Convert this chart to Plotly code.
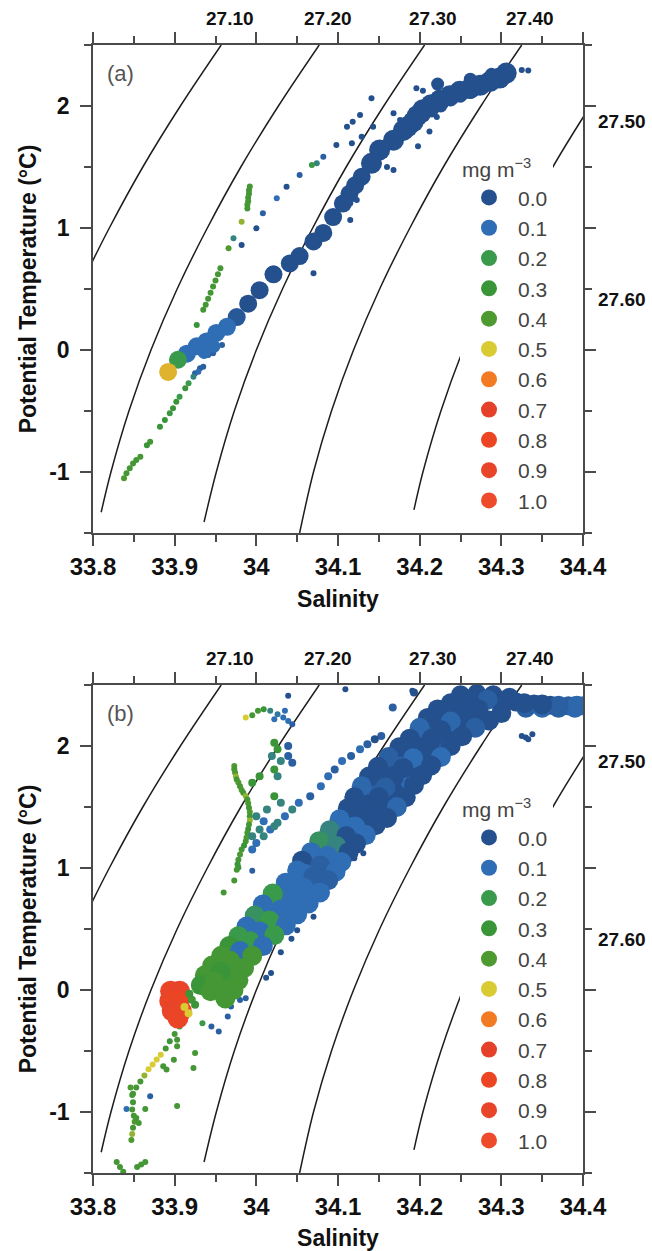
import plotly.graph_objects as go

# ---------------- legend classes (chlorophyll, mg m-3) ----------------
CHL_LEVELS = [0.0, 0.1, 0.2, 0.3, 0.4, 0.5, 0.6, 0.7, 0.8, 0.9, 1.0]
CHL_LABELS = ["0.0", "0.1", "0.2", "0.3", "0.4", "0.5", "0.6", "0.7", "0.8", "0.9", "1.0"]
CHL_COLORS = ["#24508e", "#2f6db4", "#3a9a4c", "#3a9438", "#4d9a30", "#d8cb34",
              "#f27a22", "#e4402a", "#ec4524", "#e8442a", "#ee4a2c"]

# ---------------- axes ----------------
X_TICKS = [33.8, 33.9, 34.0, 34.1, 34.2, 34.3, 34.4]
X_TICK_TEXT = ["33.8", "33.9", "34", "34.1", "34.2", "34.3", "34.4"]
Y_TICKS = [-1, 0, 1, 2]
Y_TICK_TEXT = ["-1", "0", "1", "2"]

# ---------------- isopycnals (sigma-theta) ----------------
DENS_TOP_LABELS = ["27.10", "27.20", "27.30", "27.40"]
DENS_TOP_SAL = [33.968, 34.088, 34.216, 34.335]
DENS_RIGHT_LABELS = ["27.50", "27.60"]
DENS_RIGHT_TEMP = [1.87, 0.41]

ISO_SAL = [
    [33.957, 33.907, 33.861, 33.820, 33.790],
    [34.077, 34.027, 33.981, 33.940, 33.903, 33.871, 33.844, 33.822, 33.810],
    [34.206, 34.156, 34.110, 34.069, 34.032, 34.000, 33.973, 33.951, 33.936],
    [34.325, 34.275, 34.229, 34.188, 34.151, 34.119, 34.092, 34.070, 34.053],
    [34.459, 34.409, 34.363, 34.322, 34.285, 34.253, 34.226, 34.204, 34.193],
]
ISO_TEMP = [
    [2.5, 2.0, 1.5, 1.0, 0.6],
    [2.5, 2.0, 1.5, 1.0, 0.5, 0.0, -0.5, -1.0, -1.33],
    [2.5, 2.0, 1.5, 1.0, 0.5, 0.0, -0.5, -1.0, -1.41],
    [2.5, 2.0, 1.5, 1.0, 0.5, 0.0, -0.5, -1.0, -1.50],
    [2.5, 2.0, 1.5, 1.0, 0.5, 0.0, -0.5, -1.0, -1.31],
]

# ---------------- panel (a) observations ----------------
A_SMALL_SAL = [
    34.325, 34.333, 34.196, 34.204, 34.229, 34.225, 34.221, 34.212, 34.198, 34.176,
    34.168, 34.168, 34.160, 34.141, 34.127, 34.118, 34.111, 34.143, 34.129, 34.117,
    34.098, 34.082, 34.074, 34.068, 34.053, 34.037, 34.025, 34.008, 34.000, 33.982,
    33.972, 33.982, 33.966, 34.115, 34.115, 34.123, 34.070, 33.947, 33.941, 33.958,
    33.931, 33.925,
    33.992, 33.991, 33.991, 33.990, 33.990, 33.989, 33.989,
    33.956, 33.953, 33.950, 33.947, 33.944, 33.941, 33.938, 33.935, 33.927,
    33.935, 33.929, 33.923, 33.917, 33.913, 33.906, 33.902, 33.898, 33.894, 33.888,
    33.882, 33.870, 33.866, 33.858, 33.853, 33.849, 33.845, 33.841, 33.838]
A_SMALL_TEMP = [
    2.295, 2.29, 2.145, 2.125, 2.05, 1.98, 1.91, 1.79, 1.67, 1.885,
    1.94, 1.475, 1.50, 2.063, 1.926, 1.871, 1.83, 1.83, 1.748, 1.694,
    1.68, 1.585, 1.53, 1.516, 1.434, 1.339, 1.244, 1.12, 0.997, 1.052,
    0.916, 0.861, 0.834, 1.202, 1.066, 1.23, 0.629, -0.027, -0.041, 0.041,
    -0.15, -0.191,
    1.34, 1.31, 1.28, 1.25, 1.22, 1.19, 1.16,
    0.67, 0.62, 0.57, 0.52, 0.47, 0.42, 0.37, 0.33, 0.205,
    -0.137, -0.178, -0.219, -0.273, -0.314, -0.383, -0.424, -0.478, -0.519, -0.574,
    -0.629, -0.752, -0.78, -0.875, -0.902, -0.93, -0.97, -1.011, -1.052]
A_SMALL_CHL = [
    0, 0, 0, 0, 0, 0, 0, 0, 0, 0,
    0, 0, 0, 0, 0, 0, 0, 0, 0, 0,
    0, 0.05, 0.15, 0.25, 0.05, 0, 0.1, 0.05, 0, 0.45,
    0.15, 0, 0.4, 0, 0, 0, 0, 0.05, 0.05, 0.05,
    0.05, 0.05,
    0.35, 0.35, 0.35, 0.35, 0.35, 0.35, 0.35,
    0.35, 0.35, 0.35, 0.35, 0.35, 0.35, 0.35, 0.35, 0.3,
    0.05, 0.1, 0.15, 0.2, 0.3, 0.2, 0.3, 0.3, 0.25, 0.3,
    0.3, 0.35, 0.3, 0.35, 0.35, 0.35, 0.35, 0.35, 0.4]

A_MID_SAL = [34.222, 34.262, 34.288, 33.948, 33.936, 34.300, 34.288, 34.276, 34.262,
             34.250, 34.238, 34.226, 34.215, 34.205]
A_MID_TEMP = [2.18, 2.22, 2.26, 0.03, -0.02, 2.20, 2.18, 2.15, 2.11,
              2.08, 2.05, 2.00, 1.96, 1.92]
A_MID_CHL = [0.0, 0.0, 0.0, 0.1, 0.1, 0.0, 0.0, 0.0, 0.0,
             0.0, 0.0, 0.0, 0.0, 0.0]

A_TOP_SAL = [34.306, 34.298, 34.286, 34.274, 34.262, 34.249, 34.237, 34.225, 34.214, 34.204,
             34.197, 34.192, 34.185, 34.180, 34.168, 34.151, 34.141]
A_TOP_TEMP = [2.27, 2.23, 2.20, 2.17, 2.145, 2.12, 2.085, 2.05, 2.01, 1.97,
              1.92, 1.87, 1.83, 1.80, 1.72, 1.64, 1.53]
A_TOP_CHL = [0, 0, 0, 0, 0, 0, 0, 0, 0, 0,
             0, 0, 0, 0, 0, 0, 0]

A_TRACK_SAL = [
    34.129, 34.121, 34.114, 34.106, 34.094, 34.082, 34.070, 34.053, 34.041, 34.021,
    34.004, 33.990, 33.976, 33.964, 33.951, 33.939, 33.927, 33.915, 33.904, 33.892]
A_TRACK_TEMP = [
    1.42, 1.35, 1.28, 1.20, 1.09, 0.96, 0.89, 0.77, 0.71, 0.62,
    0.49, 0.38, 0.27, 0.19, 0.14, 0.07, 0.03, -0.03, -0.08, -0.18]
A_TRACK_CHL = [
    0, 0, 0, 0, 0, 0, 0, 0, 0, 0,
    0, 0, 0.03, 0.1, 0.1, 0.1, 0.1, 0.1, 0.2, 0.53]

# ---------------- panel (b) observations ----------------
B_SMALL_SAL = [
    34.109, 34.191, 34.039, 34.325, 34.333, 34.338, 34.330,
    34.127, 34.131, 34.120, 34.101, 34.070, 34.050, 34.043, 34.030, 34.018, 34.012,
    33.969, 33.980, 33.987, 33.965, 33.954, 33.945, 33.934, 33.925, 33.923, 33.903,
    33.903, 33.899, 33.886, 33.890, 33.903, 33.870, 33.864, 33.841,
    33.960, 33.973, 33.978, 33.995,
    33.987, 33.995, 34.002, 34.009, 34.017, 34.026, 34.033, 34.039, 34.022, 34.035, 34.044,
    33.973, 33.973, 33.974, 33.975, 33.976, 33.978, 33.980, 33.982, 33.984, 33.987,
    33.989, 33.990, 33.991, 33.992, 33.992, 33.992, 33.991, 33.990, 33.989, 33.988,
    33.987, 33.985, 33.982, 33.980, 33.978, 33.977, 33.976,
    33.906, 33.900, 33.894, 33.889, 33.883, 33.878, 33.873, 33.868, 33.863, 33.858,
    33.853, 33.849,
    33.846, 33.848, 33.849, 33.848, 33.850, 33.851, 33.849, 33.848, 33.847, 33.856, 33.853,
    33.829, 33.833, 33.837, 33.854, 33.859, 33.864]
B_SMALL_TEMP = [
    2.466, 2.452, 2.411, 2.082, 2.055, 2.096, 2.07,
    1.18, 1.12, 1.08, 1.03, 0.60, 0.49, 0.42, 0.31, 0.14, 0.10,
    -0.136, -0.082, -0.068, -0.217, -0.34, -0.299, -0.272, -0.516, -0.639, -0.408,
    -0.462, -0.571, -0.625, -0.652, -0.951, -0.87, -0.975, -0.975,
    0.80, 0.897, 1.005, 0.978,
    2.233, 2.252, 2.288, 2.301, 2.288, 2.26, 2.233, 2.205, 2.219, 2.288, 2.178,
    1.836, 1.81, 1.781, 1.75, 1.726, 1.70, 1.671, 1.64, 1.616, 1.59,
    1.562, 1.53, 1.493, 1.46, 1.425, 1.39, 1.356, 1.32, 1.288, 1.25,
    1.219, 1.185, 1.151, 1.11, 1.068, 1.03, 0.986,
    -0.30, -0.36, -0.42, -0.48, -0.53, -0.57, -0.61, -0.65, -0.70, -0.75,
    -0.80, -0.85,
    -0.80, -0.86, -0.92, -0.98, -1.03, -1.08, -1.13, -1.18, -1.23, -1.09, -1.05,
    -1.41, -1.45, -1.49, -1.45, -1.43, -1.41]
B_SMALL_CHL = [
    0, 0, 0, 0, 0, 0, 0,
    0, 0, 0, 0, 0, 0, 0, 0, 0, 0,
    0.05, 0.05, 0.05, 0.05, 0.05, 0.05, 0.2, 0.35, 0.35, 0.35,
    0.35, 0.35, 0.35, 0.35, 0.35, 0.05, 0.35, 0.1,
    0.35, 0.35, 0.3, 0.05,
    0.5, 0.35, 0.35, 0.3, 0.15, 0.12, 0.1, 0.1, 0.1, 0.1, 0.05,
    0.4, 0.35, 0.4, 0.45, 0.35, 0.4, 0.35, 0.4, 0.35, 0.45,
    0.35, 0.4, 0.35, 0.4, 0.35, 0.45, 0.35, 0.3, 0.35, 0.4,
    0.35, 0.3, 0.35, 0.4, 0.35, 0.3, 0.35,
    0.35, 0.35, 0.3, 0.35, 0.5, 0.5, 0.5, 0.5, 0.45, 0.35,
    0.35, 0.35,
    0.4, 0.35, 0.35, 0.35, 0.35, 0.4, 0.35, 0.45, 0.4, 0.35, 0.35,
    0.35, 0.35, 0.35, 0.35, 0.35, 0.35]

B_MID_SAL = [
    34.193, 34.167, 34.153, 34.145, 34.136, 34.127, 34.116, 34.105, 34.096, 34.088,
    34.079, 34.066, 34.052, 34.044, 34.035, 34.026, 34.017, 34.009, 34.000, 33.995,
    34.022, 34.026, 34.019, 34.030, 34.022, 34.039, 34.044, 34.039, 34.026,
    34.000, 34.009, 34.022, 34.004, 33.995, 34.013, 34.030, 34.022, 33.995, 34.004]
B_MID_TEMP = [
    2.438, 2.315, 2.082, 2.055, 2.014, 1.973, 1.918, 1.877, 1.808, 1.753,
    1.671, 1.589, 1.534, 1.479, 1.425, 1.370, 1.315, 1.260, 1.205, 1.151,
    2.027, 1.973, 1.918, 1.877, 1.808, 1.918, 1.863, 2.0, 1.753,
    1.425, 1.384, 1.342, 1.315, 1.26, 1.479, 1.534, 1.589, 1.699, 1.753]
B_MID_CHL = [
    0.0, 0.05, 0.05, 0.0, 0.05, 0.1, 0.05, 0.1, 0.05, 0.1,
    0.1, 0.05, 0.1, 0.15, 0.1, 0.15, 0.1, 0.15, 0.1, 0.1,
    0.3, 0.3, 0.15, 0.15, 0.3, 0.05, 0.05, 0.05, 0.15,
    0.15, 0.1, 0.15, 0.15, 0.15, 0.15, 0.15, 0.3, 0.3, 0.3]

# upper band: fill rows between edges, then edge rows
B_FILL_SAL = [
    34.224, 34.207, 34.196, 34.183, 34.170, 34.159, 34.149, 34.139, 34.130, 34.121,
    34.111, 34.099, 34.087, 34.076,
    34.270, 34.254, 34.240, 34.227, 34.215, 34.203, 34.192, 34.180, 34.170, 34.161,
    34.151, 34.140, 34.128, 34.116, 34.105, 34.095,
    34.400, 34.382, 34.360, 34.340, 34.318, 34.295, 34.250, 34.270, 34.290, 34.310,
    34.330, 34.350, 34.370, 34.390]
B_FILL_TEMP = [
    2.20, 2.11, 2.02, 1.94, 1.86, 1.78, 1.70, 1.62, 1.54, 1.45,
    1.36, 1.27, 1.18, 1.09,
    2.24, 2.17, 2.10, 2.02, 1.94, 1.86, 1.78, 1.70, 1.62, 1.54,
    1.46, 1.38, 1.30, 1.22, 1.14, 1.06,
    2.33, 2.33, 2.335, 2.345, 2.36, 2.375, 2.42, 2.43, 2.42, 2.40,
    2.31, 2.31, 2.31, 2.31]
B_FILL_CHL = [
    0.0, 0.05, 0.0, 0.0, 0.08, 0.0, 0.0, 0.05, 0.0, 0.0,
    0.1, 0.0, 0.12, 0.1,
    0.0, 0.0, 0.0, 0.05, 0.0, 0.0, 0.0, 0.1, 0.0, 0.0,
    0.0, 0.05, 0.0, 0.0, 0.1, 0.1,
    0.08, 0.05, 0.0, 0.0, 0.0, 0.0, 0.0, 0.0, 0.0, 0.0,
    0.05, 0.08, 0.05, 0.08]

B_BAND_SAL = [
    34.392, 34.370, 34.350, 34.328, 34.305, 34.283, 34.260, 34.238, 34.222, 34.210,
    34.200, 34.188, 34.175, 34.162, 34.149, 34.138, 34.129, 34.120, 34.112, 34.102,
    34.090, 34.077, 34.067, 34.056,
    34.272, 34.252, 34.238, 34.226, 34.215, 34.204, 34.192, 34.180, 34.168, 34.158,
    34.150, 34.140, 34.131, 34.121, 34.110, 34.098, 34.087, 34.078,
    34.300, 34.285, 34.268, 34.252, 34.238, 34.226, 34.214, 34.203, 34.193, 34.183,
    34.172, 34.160, 34.146, 34.134, 34.122, 34.113, 34.104, 34.097]
B_BAND_TEMP = [
    2.33, 2.33, 2.34, 2.35, 2.37, 2.38, 2.38, 2.35, 2.30, 2.23,
    2.15, 2.06, 1.99, 1.91, 1.83, 1.75, 1.67, 1.58, 1.49, 1.40,
    1.31, 1.22, 1.13, 1.06,
    2.30, 2.26, 2.20, 2.13, 2.06, 1.98, 1.90, 1.82, 1.74, 1.66,
    1.58, 1.50, 1.42, 1.34, 1.26, 1.18, 1.10, 1.02,
    2.27, 2.21, 2.15, 2.08, 2.00, 1.91, 1.84, 1.76, 1.68, 1.58,
    1.50, 1.41, 1.35, 1.27, 1.20, 1.13, 1.05, 0.97]
B_BAND_CHL = [
    0.08, 0.05, 0.0, 0.0, 0.0, 0.05, 0.0, 0.0, 0.0, 0.0,
    0.08, 0.0, 0.0, 0.05, 0.0, 0.0, 0.08, 0.0, 0.0, 0.1,
    0.15, 0.18, 0.1, 0.0,
    0.0, 0.0, 0.08, 0.0, 0.0, 0.0, 0.1, 0.0, 0.0, 0.05,
    0.0, 0.0, 0.0, 0.1, 0.0, 0.15, 0.1, 0.05,
    0.0, 0.0, 0.05, 0.0, 0.0, 0.1, 0.0, 0.0, 0.0, 0.0,
    0.08, 0.0, 0.0, 0.1, 0.0, 0.0, 0.1, 0.1]

# lower band: fills, then rows
B_LOWFILL_SAL = [
    34.060, 34.047, 34.032, 34.019, 34.007, 33.996, 33.985, 33.974, 33.962, 33.951, 33.942,
    34.079, 34.068, 34.054, 34.040, 34.026, 34.013, 34.000, 33.988, 33.976, 33.966, 33.959]
B_LOWFILL_TEMP = [
    0.955, 0.86, 0.77, 0.68, 0.59, 0.50, 0.42, 0.34, 0.26, 0.175, 0.095,
    0.915, 0.82, 0.73, 0.64, 0.55, 0.465, 0.38, 0.30, 0.21, 0.115, 0.03]
B_LOWFILL_CHL = [
    0.1, 0.1, 0.15, 0.1, 0.2, 0.1, 0.2, 0.3, 0.35, 0.35, 0.35,
    0.05, 0.1, 0.1, 0.1, 0.15, 0.1, 0.1, 0.2, 0.35, 0.35, 0.35]

B_LOW_SAL = [
    34.050, 34.036, 34.020, 34.008, 33.998, 33.988, 33.978, 33.967, 33.957, 33.946, 33.937, 33.932,
    34.070, 34.058, 34.044, 34.030, 34.016, 34.004, 33.992, 33.980, 33.968, 33.956, 33.948, 33.944,
    34.088, 34.078, 34.064, 34.050, 34.036, 34.022, 34.008, 33.995, 33.985, 33.978, 33.972, 33.962]
B_LOW_TEMP = [
    0.98, 0.88, 0.79, 0.70, 0.61, 0.52, 0.44, 0.36, 0.28, 0.20, 0.12, 0.04,
    0.93, 0.84, 0.75, 0.66, 0.57, 0.48, 0.40, 0.32, 0.24, 0.15, 0.07, -0.01,
    0.90, 0.80, 0.71, 0.62, 0.53, 0.45, 0.36, 0.28, 0.18, 0.08, 0.00, -0.07]
B_LOW_CHL = [
    0.1, 0.1, 0.2, 0.1, 0.18, 0.1, 0.2, 0.3, 0.35, 0.35, 0.35, 0.3,
    0.05, 0.1, 0.1, 0.1, 0.2, 0.1, 0.2, 0.1, 0.35, 0.3, 0.35, 0.35,
    0.05, 0.1, 0.1, 0.1, 0.1, 0.2, 0.1, 0.35, 0.35, 0.35, 0.35, 0.35]

B_RED_SAL = [33.895, 33.906, 33.894, 33.905, 33.897, 33.908, 33.904]
B_RED_TEMP = [-0.01, -0.01, -0.09, -0.09, -0.17, -0.17, -0.23]
B_RED_CHL = [0.85, 0.9, 0.85, 0.8, 0.9, 0.85, 0.85]

B_BITS_SAL = [33.912, 33.917, 33.921, 33.918, 33.925]
B_BITS_TEMP = [-0.14, -0.19, -0.08, -0.03, -0.12]
B_BITS_CHL = [0.5, 0.5, 0.35, 0.3, 0.3]

# ---------------- styling ----------------
W, H = 652, 1251
FONT = "Liberation Sans, Arial, Helvetica, sans-serif"
AX_COLOR = "#4a4a4a"
PLOT_L, PLOT_R = 93, 583
PANEL_TOPS = [45, 685]
PANEL_H = 488
COLORSCALE = [[lv, c] for lv, c in zip(CHL_LEVELS, CHL_COLORS)]

PANELS = [
    dict(tag="(a)", xa="x", ya="y", leg="legend",
         groups=[(A_SMALL_SAL, A_SMALL_TEMP, A_SMALL_CHL, 6),
                 (A_MID_SAL, A_MID_TEMP, A_MID_CHL, 13),
                 (A_TOP_SAL, A_TOP_TEMP, A_TOP_CHL, 21),
                 (A_TRACK_SAL, A_TRACK_TEMP, A_TRACK_CHL, 18)]),
    dict(tag="(b)", xa="x2", ya="y2", leg="legend2",
         groups=[(B_SMALL_SAL, B_SMALL_TEMP, B_SMALL_CHL, 6),
                 (B_MID_SAL, B_MID_TEMP, B_MID_CHL, 8),
                 (B_FILL_SAL, B_FILL_TEMP, B_FILL_CHL, 19),
                 (B_BAND_SAL, B_BAND_TEMP, B_BAND_CHL, 20),
                 (B_LOWFILL_SAL, B_LOWFILL_TEMP, B_LOWFILL_CHL, 19),
                 (B_LOW_SAL, B_LOW_TEMP, B_LOW_CHL, 20),
                 (B_RED_SAL, B_RED_TEMP, B_RED_CHL, 21),
                 (B_BITS_SAL, B_BITS_TEMP, B_BITS_CHL, 8)]),
]

fig = go.Figure()
annotations = []
layout_axes = {}

for i, p in enumerate(PANELS):
    xa, ya = p["xa"], p["ya"]
    for s_line, t_line in zip(ISO_SAL, ISO_TEMP):
        fig.add_trace(go.Scatter(x=s_line, y=t_line, mode="lines",
                                 line=dict(color="#1e1e1e", width=1.5, shape="spline"),
                                 xaxis=xa, yaxis=ya, showlegend=False, hoverinfo="skip"))
    for s_g, t_g, c_g, size in p["groups"]:
        fig.add_trace(go.Scatter(x=s_g, y=t_g, mode="markers",
                                 marker=dict(size=size, color=c_g, colorscale=COLORSCALE,
                                             cmin=0, cmax=1, showscale=False, line=dict(width=0)),
                                 xaxis=xa, yaxis=ya, showlegend=False, hoverinfo="skip"))
    for lab, col in zip(CHL_LABELS, CHL_COLORS):
        fig.add_trace(go.Scatter(x=[None], y=[None], mode="markers", name=lab,
                                 marker=dict(size=18, color=col),
                                 xaxis=xa, yaxis=ya, legend=p["leg"], showlegend=True))

    top = PANEL_TOPS[i]
    dom_y = [1 - (top + PANEL_H) / H, 1 - top / H]
    dom_x = [PLOT_L / W, PLOT_R / W]
    xkey = "xaxis" if xa == "x" else "xaxis2"
    ykey = "yaxis" if ya == "y" else "yaxis2"
    layout_axes[xkey] = dict(
        domain=dom_x, anchor=ya, range=[33.8, 34.4], tickvals=X_TICKS, ticktext=X_TICK_TEXT,
        automargin=False,
        showgrid=False, zeroline=False, showline=True, linecolor=AX_COLOR, linewidth=1.5,
        mirror="ticks", ticks="outside", ticklen=11, tickwidth=1.5, tickcolor=AX_COLOR,
        minor=dict(dtick=0.05, tick0=33.8, ticks="outside", ticklen=7, tickwidth=1.5,
                   tickcolor=AX_COLOR, showgrid=False),
        tickfont=dict(family=FONT, size=24, color="#111", weight="bold"),
        title=dict(text="Salinity", standoff=12,
                   font=dict(family=FONT, size=23, color="#111", weight="bold")),
    )
    layout_axes[ykey] = dict(
        domain=dom_y, anchor=xa, range=[-1.5, 2.5], tickvals=Y_TICKS, ticktext=Y_TICK_TEXT,
        automargin=False, ticklabelstandoff=6,
        showgrid=False, zeroline=False, showline=True, linecolor=AX_COLOR, linewidth=1.5,
        mirror="ticks", ticks="outside", ticklen=11, tickwidth=1.5, tickcolor=AX_COLOR,
        minor=dict(dtick=0.5, tick0=0, ticks="outside", ticklen=7, tickwidth=1.5,
                   tickcolor=AX_COLOR, showgrid=False),
        tickfont=dict(family=FONT, size=23, color="#111", weight="bold"),
        title=dict(text="Potential Temperature (°C)", standoff=6,
                   font=dict(family=FONT, size=23, color="#111", weight="bold")),
    )

    for s, txt in zip(DENS_TOP_SAL, DENS_TOP_LABELS):
        annotations.append(dict(x=s, xref=xa, y=1, yref=f"{ya} domain", text=txt,
                                showarrow=False, yanchor="bottom", yshift=14,
                                font=dict(family=FONT, size=19, color="#111", weight="bold")))
    for t, txt in zip(DENS_RIGHT_TEMP, DENS_RIGHT_LABELS):
        annotations.append(dict(x=1, xref=f"{xa} domain", y=t, yref=ya, text=txt,
                                showarrow=False, xanchor="left", xshift=13,
                                font=dict(family=FONT, size=19, color="#111", weight="bold")))
    annotations.append(dict(x=0, xref=f"{xa} domain", y=1, yref=f"{ya} domain", text=p["tag"],
                            showarrow=False, xanchor="left", yanchor="top", xshift=12, yshift=-14,
                            font=dict(family=FONT, size=22, color="#555")))

legend_common = dict(
    xanchor="left", yanchor="top", bgcolor="white", borderwidth=0,
    font=dict(family=FONT, size=21, color="#444"), itemwidth=48, tracegroupgap=0,
    itemsizing="trace", itemclick=False, itemdoubleclick=False,
    title=dict(text="mg m<sup>\u22123</sup>", font=dict(family=FONT, size=21, color="#444")),
)

fig.update_layout(
    width=W, height=H, autosize=False,
    margin=dict(l=0, r=0, t=0, b=0, autoexpand=False),
    paper_bgcolor="white", plot_bgcolor="white",
    font=dict(family=FONT),
    annotations=annotations,
    legend=dict(legend_common, x=460 / W, y=1 - 150 / H),
    legend2=dict(legend_common, x=460 / W, y=1 - 790 / H),
    **layout_axes,
)

fig.write_html("out.html")
